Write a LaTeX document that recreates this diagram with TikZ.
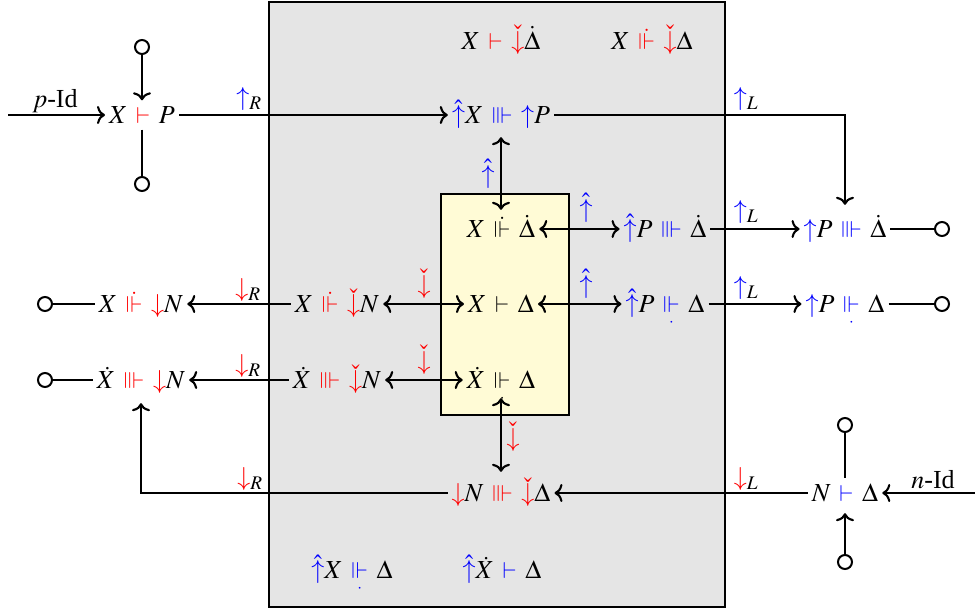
\documentclass[tikz,border=0pt]{standalone}
\usepackage{amsmath,amssymb}
\usepackage{mathptmx}
\usepackage[no-math]{fontspec}
\setmainfont{Liberation Serif}
\usetikzlibrary{arrows.meta}
\newcommand{\Tsym}[2]{\mathrel{\mkern2mu\hbox{\fontsize{23}{26}\selectfont\color{#1}$\textstyle#2$}\mkern2mu}}
\newcommand{\sdash}[1]{\Tsym{#1}{\vdash}}
\newcommand{\sVd}[1]{\Tsym{#1}{\dot{\Vdash}}}
\newcommand{\sVu}[1]{\Tsym{#1}{\underset{\cdot}{\Vdash}}}
\newcommand{\sVV}[1]{\Tsym{#1}{\Vvdash}}
\newcommand{\mhup}{{\color{blue}\hat{\uparrow}}}
\newcommand{\mup}{{\color{blue}\mathord{\uparrow}}}
\newcommand{\mdc}{{\color{red}\check{\downarrow}}}
\newcommand{\mdn}{{\color{red}\mathord{\downarrow}}}
\definecolor{boxgray}{RGB}{229,229,229}
\definecolor{boxyellow}{RGB}{255,251,214}
\tikzset{
  bigfont/.style={font=\fontsize{26}{30}\selectfont},
  lbl/.style={bigfont, inner sep=0pt},
  term/.style={bigfont, text height=22pt, text depth=5pt, inner xsep=4pt, inner ysep=1pt},
  port/.style={circle, draw, fill=white, minimum size=14pt, inner sep=0pt, line width=2pt},
  wire/.style={line width=2.1pt},
  tipa/.tip={To[length=8pt,width=18pt]},
  conn/.style={wire, -tipa},
  dconn/.style={wire, tipa-tipa}
}
\begin{document}
\begin{tikzpicture}[x=1pt,y=-1pt]
\useasboundingbox (0,0) rectangle (975,614);
\draw[wire, fill=boxgray] (269,2) rectangle (725,607);
\draw[wire, fill=boxyellow] (441,194) rectangle (569,415);

% terms
\node[term] (top1) at (501,40.5) {$X \sdash{red} \mdc\dot{\Delta}$};
\node[term] (top2) at (652,40.5) {$X \sVd{red} \mdc\Delta$};
\node[term] (xp) at (142,115) {$X \sdash{red} P$};
\node[term] (hx) at (501,115) {$\mhup X \sVV{blue} \mup P$};
\node[term] (y1) at (501,229) {$X \sVd{black} \dot{\Delta}$};
\node[term] (y2) at (501,304) {$X \sdash{black} \Delta$};
\node[term] (y3) at (501,380) {$\dot{X} \sVu{black} \Delta$};
\node[term] (r1) at (665,229) {$\mhup P \sVV{blue} \dot{\Delta}$};
\node[term] (r2) at (665,304) {$\mhup P \sVu{blue} \Delta$};
\node[term] (o1) at (845,229) {$\mup P \sVV{blue} \dot{\Delta}$};
\node[term] (o2) at (845,304) {$\mup P \sVu{blue} \Delta$};
\node[term] (l1) at (337,304) {$X \sVd{red} \mdc N$};
\node[term] (l2) at (337,380) {$\dot{X} \sVV{red} \mdc N$};
\node[term] (m1) at (141,304) {$X \sVd{red} \mdn N$};
\node[term] (m2) at (141,380) {$\dot{X} \sVV{red} \mdn N$};
\node[term] (nd) at (501,493) {$\mdn N \sVV{red} \mdc\Delta$};
\node[term] (nt) at (845,493) {$N \sdash{blue} \Delta$};
\node[term] (b1) at (352,570) {$\mhup X \sVu{blue} \Delta$};
\node[term] (b2) at (502,570) {$\mhup\dot{X} \sdash{blue} \Delta$};

% ports
\node[port] (c1) at (142,47) {};
\node[port] (c2) at (142,184) {};
\node[port] (c3) at (942,229) {};
\node[port] (c4) at (942,304) {};
\node[port] (c5) at (45,304) {};
\node[port] (c6) at (45,380) {};
\node[port] (c7) at (845,425) {};
\node[port] (c8) at (845,562) {};
\coordinate (pin) at (8,115);
\coordinate (nin) at (975,493);

% connectors
\draw[conn] (pin) -- (xp);
\draw[conn] (c1) -- (xp);
\draw[wire] (xp) -- (c2);
\draw[conn] (xp) -- (hx);
\draw[conn, shorten >=9.5pt] (hx.east) -| (o1.north);
\draw[dconn, shorten <=7.5pt, shorten >=4.5pt] (hx) -- (y1);
\draw[dconn] (y1) -- (r1);
\draw[dconn] (y2) -- (r2);
\draw[conn] (r1) -- (o1);
\draw[conn] (r2) -- (o2);
\draw[wire] (o1) -- (c3);
\draw[wire] (o2) -- (c4);
\draw[dconn] (y2) -- (l1);
\draw[dconn] (y3) -- (l2);
\draw[conn] (l1) -- (m1);
\draw[conn] (l2) -- (m2);
\draw[wire] (m1) -- (c5);
\draw[wire] (m2) -- (c6);
\draw[dconn, shorten <=3.5pt, shorten >=6.5pt] (y3) -- (nd);
\draw[conn, shorten >=8.5pt] (nd.west) -| (m2.south);
\draw[conn] (nt) -- (nd);
\draw[conn] (nin) -- (nt);
\draw[wire] (c7) -- (nt);
\draw[conn, shorten >=5.5pt] (c8) -- (nt);

% labels
\node[lbl] (pl) at (55,101) {$p$-Id};
\node[lbl] (nl) at (933,480) {$n$-Id};
\node[lbl] (L1) at (249,99) {$\mup_R$};
\node[lbl] (L2) at (746,99) {$\mup_L$};
\node[lbl] (L3) at (746,212) {$\mup_L$};
\node[lbl] (L4) at (746,288) {$\mup_L$};
\node[lbl] (L5) at (248,290) {$\mdn_R$};
\node[lbl] (L6) at (248,366) {$\mdn_R$};
\node[lbl] (L7) at (250,479) {$\mdn_R$};
\node[lbl] (L8) at (746,479) {$\mdn_L$};
\node[lbl] (H1) at (488,174) {$\mhup$};
\node[lbl] (H2) at (586,208) {$\mhup$};
\node[lbl] (H3) at (586,284) {$\mhup$};
\node[lbl] (D1) at (424,284) {$\mdc$};
\node[lbl] (D2) at (424,360) {$\mdc$};
\node[lbl] (D3) at (513,437) {$\mdc$};
\end{tikzpicture}
\end{document}
